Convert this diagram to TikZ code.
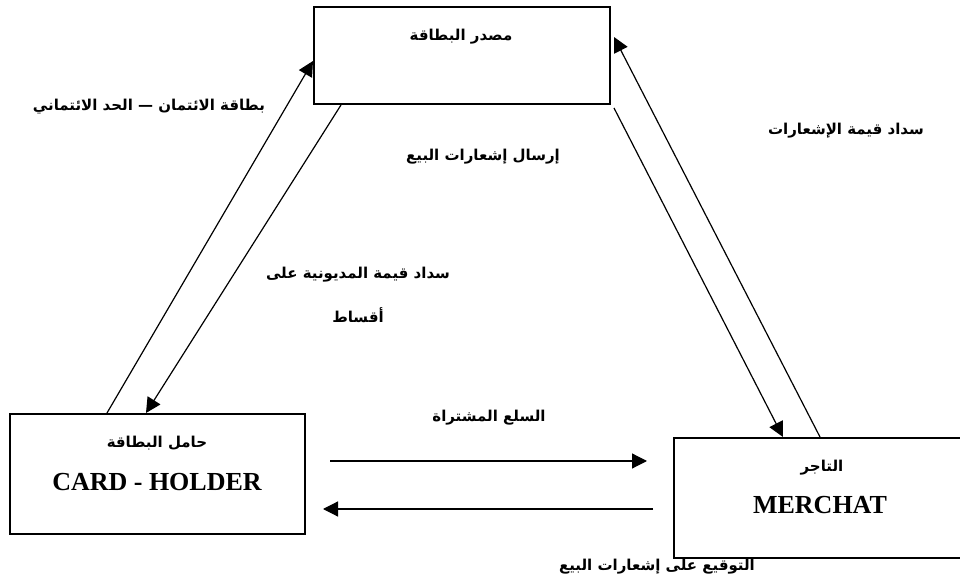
\documentclass[tikz,border=0pt]{standalone}
\usepackage{fontspec}
\setmainfont{Liberation Serif}
\newfontfamily\arabicfont[Script=Arabic]{DejaVu Sans}
\TeXXeTstate=1
\usetikzlibrary{positioning,calc,arrows.meta}
\newcommand{\arabtxt}[1]{{\arabicfont\bfseries\beginR #1\endR}}

\begin{document}
\begin{tikzpicture}[x=0.5pt,y=-0.5pt,
    box/.style={draw,line width=1pt,inner sep=0pt},
    lbl/.style={font=\fontsize{7.5}{9}\selectfont,inner sep=0pt},
    eng/.style={font=\fontsize{13}{15}\selectfont\bfseries,inner sep=0pt},
    flow/.style={-{Triangle[length=7.5pt,width=7.5pt]},line width=0.6pt}]
  \clip (0,0) rectangle (960,588);

  \node[box,minimum width=148pt,minimum height=48.5pt] (issuer) at (462,55.5) {};
  \node[box,minimum width=147.5pt,minimum height=60pt] (holder) at (157.5,474) {};
  \node[box,minimum width=146pt,minimum height=60pt] (merchant) at (820,498) {};

  \node[lbl] (issuername) at (461,37) {\arabtxt{مصدر البطاقة}};
  \node[lbl] (holdername) at (157,443) {\arabtxt{حامل البطاقة}};
  \node[eng] (holderen) at (157,482) {CARD - HOLDER};
  \node[lbl] (merchantname) at (822,468) {\arabtxt{التاجر}};
  \node[eng] (merchanten) at (820,505) {MERCHAT};

  \draw[flow] ($(holder.north west)+(98,0)$) -- ($(issuer.north west)+(0,55)$);
  \draw[flow] ($(issuer.south west)+(28,0)$) -- ($(holder.north west)+(137,0)$);
  \draw[flow] ($(issuer.south east)+(3,3)$) -- ($(merchant.north west)+(110,0)$);
  \draw[flow] ($(merchant.north west)+(147,0)$) -- ($(issuer.north east)+(3,31)$);
  \draw[flow] ($(holder.north east)+(24,48)$) -- ($(merchant.north west)+(-26,24)$);
  \draw[flow] ($(merchant.north west)+(-20,72)$) -- ($(holder.north east)+(17,96)$);

  \node[lbl] (credit) at (149,107) {\arabtxt{بطاقة الائتمان — الحد الائتماني}};
  \node[lbl] (notices) at (483,157) {\arabtxt{إرسال إشعارات البيع}};
  \node[lbl] (paynotices) at (846,131) {\arabtxt{سداد قيمة الإشعارات}};
  \node[lbl] (paydebt) at (358,275) {\arabtxt{سداد قيمة المديونية على}};
  \node[lbl] (instal) at (358,315) {\arabtxt{أقساط}};
  \node[lbl] (goods) at (489,418) {\arabtxt{السلع المشتراة}};
  \node[lbl] (signing) at (657,567) {\arabtxt{التوقيع على إشعارات البيع}};
\end{tikzpicture}
\end{document}
